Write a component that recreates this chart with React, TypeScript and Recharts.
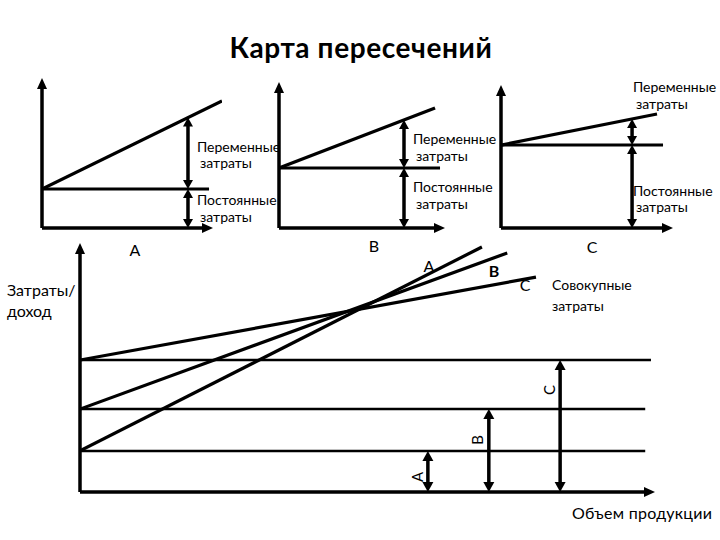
import React from 'react';
import { LineChart, Line, XAxis, YAxis, ReferenceLine } from 'recharts';

// ---- data (in chart units 0..100) ----
const seriesNames = ['A', 'B', 'C'];

// main chart: fixed cost level and total cost lines per option
const mainFixedCost = [16.5, 33.3, 53.0];
const mainFixedEndX = [98.3, 98.3, 99.3];
const mainTotalEndX = [69.9, 74.3, 79.3];
const mainTotalEndY = [98.4, 96.0, 86.3];
const mainArrowX = [60.5, 71.1, 83.5];

// three small charts
const miniFixedCost = [26.0, 41.1, 58.0];
const miniFixedEndX = [92.8, 97.0, 94.2];
const miniVarEndX = [100, 94.0, 90.7];
const miniVarEndY = [84.7, 82.2, 79.7];
const miniArrowX = [81.1, 75.3, 76.2];
const miniArrowTopY = [73.6, 74.0, 76.2];
const miniAxisEndX = [95, 100, 100];

// ---- layout ----
const W = 720;
const H = 540;
const FONT = 'Lato, "Open Sans", sans-serif';
const mainMargin = { top: 243, right: 65, bottom: 48, left: 80 };
const miniMargins = [
  { top: 78, right: 498, bottom: 312, left: 42 },
  { top: 82, right: 275, bottom: 312, left: 279 },
  { top: 85, right: 47, bottom: 312, left: 501 },
];

function arrowShape(startHead: boolean, endHead: boolean, sw: number, hl: number, hw: number) {
  return (p: any) => {
    const x1 = Number(p.x1), y1 = Number(p.y1), x2 = Number(p.x2), y2 = Number(p.y2);
    const dx = x2 - x1, dy = y2 - y1;
    const len = Math.hypot(dx, dy) || 1;
    const ux = dx / len, uy = dy / len;
    const px = -uy, py = ux;
    const head = (tx: number, ty: number, dx2: number, dy2: number) => {
      const bx = tx - dx2 * hl, by = ty - dy2 * hl;
      return `${tx},${ty} ${bx + (px * hw) / 2},${by + (py * hw) / 2} ${bx - (px * hw) / 2},${by - (py * hw) / 2}`;
    };
    const sx = startHead ? x1 + ux * hl * 0.7 : x1;
    const sy = startHead ? y1 + uy * hl * 0.7 : y1;
    const ex = endHead ? x2 - ux * hl * 0.7 : x2;
    const ey = endHead ? y2 - uy * hl * 0.7 : y2;
    return (
      <g>
        <line x1={sx} y1={sy} x2={ex} y2={ey} stroke="#000" strokeWidth={sw} />
        {startHead && <polygon points={head(x1, y1, -ux, -uy)} fill="#000" />}
        {endHead && <polygon points={head(x2, y2, ux, uy)} fill="#000" />}
      </g>
    );
  };
}

const layer: React.CSSProperties = { position: 'absolute', left: 0, top: 0 };

function MiniChart({ i }: { i: number }) {
  const fixedLine = [
    { x: 0, y: miniFixedCost[i] },
    { x: miniFixedEndX[i], y: miniFixedCost[i] },
  ];
  const varLine = [
    { x: 0, y: miniFixedCost[i] },
    { x: miniVarEndX[i], y: miniVarEndY[i] },
  ];
  return (
    <div style={layer}>
      <LineChart width={W} height={H} margin={miniMargins[i]}>
        <XAxis type="number" dataKey="x" domain={[0, 100]} hide allowDataOverflow />
        <YAxis type="number" domain={[0, 100]} hide allowDataOverflow />
        <ReferenceLine segment={[{ x: 0, y: 0 }, { x: 0, y: 100 }]} ifOverflow="visible" shape={arrowShape(false, true, 3.5, 11, 10)} />
        <ReferenceLine segment={[{ x: 0, y: 0 }, { x: miniAxisEndX[i], y: 0 }]} ifOverflow="visible" shape={arrowShape(false, true, 3.5, 11, 10)} />
        <Line data={fixedLine} dataKey="y" stroke="#000" strokeWidth={3} dot={false} isAnimationActive={false} />
        <Line data={varLine} dataKey="y" stroke="#000" strokeWidth={3.2} dot={false} isAnimationActive={false} />
        <ReferenceLine segment={[{ x: miniArrowX[i], y: 0 }, { x: miniArrowX[i], y: miniFixedCost[i] }]} ifOverflow="visible" shape={arrowShape(true, true, 3.5, 9, 10)} />
        <ReferenceLine segment={[{ x: miniArrowX[i], y: miniFixedCost[i] }, { x: miniArrowX[i], y: miniArrowTopY[i] }]} ifOverflow="visible" shape={arrowShape(true, true, 3.5, 9, 10)} />
      </LineChart>
    </div>
  );
}

function MainChart() {
  return (
    <div style={layer}>
      <LineChart width={W} height={H} margin={mainMargin}>
        <XAxis type="number" dataKey="x" domain={[0, 100]} hide allowDataOverflow />
        <YAxis type="number" domain={[0, 100]} hide allowDataOverflow />
        <ReferenceLine segment={[{ x: 0, y: 0 }, { x: 0, y: 100 }]} ifOverflow="visible" shape={arrowShape(false, true, 3.5, 11, 10)} />
        <ReferenceLine segment={[{ x: 0, y: 0 }, { x: 100, y: 0 }]} ifOverflow="visible" shape={arrowShape(false, true, 3.5, 11, 10)} />
        {seriesNames.map((n, i) => (
          <Line
            key={'f' + n}
            data={[{ x: 0, y: mainFixedCost[i] }, { x: mainFixedEndX[i], y: mainFixedCost[i] }]}
            dataKey="y"
            stroke="#000"
            strokeWidth={2.5}
            dot={false}
            isAnimationActive={false}
          />
        ))}
        {seriesNames.map((n, i) => (
          <Line
            key={'t' + n}
            data={[{ x: 0, y: mainFixedCost[i] }, { x: mainTotalEndX[i], y: mainTotalEndY[i] }]}
            dataKey="y"
            stroke="#000"
            strokeWidth={3.2}
            dot={false}
            isAnimationActive={false}
          />
        ))}
        {seriesNames.map((n, i) => (
          <ReferenceLine
            key={'a' + n}
            segment={[{ x: mainArrowX[i], y: 0 }, { x: mainArrowX[i], y: mainFixedCost[i] }]}
            ifOverflow="visible"
            shape={arrowShape(true, true, 3.5, 10, 11)}
          />
        ))}
      </LineChart>
    </div>
  );
}

function Txt({ x, y, children, size = 14, anchor = 'start', rotate = false, bold = false, ls = 0 }: any) {
  return (
    <text
      x={x}
      y={y}
      fontSize={size}
      fontFamily={FONT}
      fontWeight={bold ? 700 : 400}
      textAnchor={anchor}
      letterSpacing={ls}
      dominantBaseline={rotate ? 'central' : 'auto'}
      transform={rotate ? `rotate(-90 ${x} ${y})` : undefined}
      fill="#000"
    >
      {children}
    </text>
  );
}

function Labels() {
  const miniLabelPos = [
    [197, 152, 168, 205, 222],
    [413, 144, 161, 192, 209],
    [633, 92, 109, 196, 212],
  ];
  return (
    <svg width={W} height={H} style={{ ...layer, pointerEvents: 'none' }}>
      <Txt x={361} y={58} size={28} anchor="middle" bold ls={0.6}>
        Карта пересечений
      </Txt>
      {miniLabelPos.map((p, i) => (
        <g key={i}>
          <Txt x={p[0]} y={p[1]}>Переменные</Txt>
          <Txt x={p[0] + 3} y={p[2]}>затраты</Txt>
          <Txt x={p[0]} y={p[3]}>Постоянные</Txt>
          <Txt x={p[0] + 3} y={p[4]}>затраты</Txt>
        </g>
      ))}
      <Txt x={135} y={256} size={16} anchor="middle">{seriesNames[0]}</Txt>
      <Txt x={374} y={252} size={16} anchor="middle">{seriesNames[1]}</Txt>
      <Txt x={592} y={253} size={16} anchor="middle">{seriesNames[2]}</Txt>
      <Txt x={429} y={272} size={16} anchor="middle">{seriesNames[0]}</Txt>
      <Txt x={494} y={277} size={16} anchor="middle" bold>{seriesNames[1]}</Txt>
      <Txt x={525} y={291} size={16} anchor="middle">{seriesNames[2]}</Txt>
      <Txt x={552} y={290}>Совокупные</Txt>
      <Txt x={552} y={311}>затраты</Txt>
      <Txt x={7} y={296} size={16}>Затраты/</Txt>
      <Txt x={7} y={317} size={16}>доход</Txt>
      <Txt x={572} y={519} size={16} ls={0.3}>Объем продукции</Txt>
      <Txt x={417} y={477} size={15} anchor="middle" rotate>{seriesNames[0]}</Txt>
      <Txt x={477} y={440} size={15} anchor="middle" rotate>{seriesNames[1]}</Txt>
      <Txt x={549} y={390} size={15} anchor="middle" rotate>{seriesNames[2]}</Txt>
    </svg>
  );
}

export default function App() {
  return (
    <div style={{ position: 'absolute', left: 0, top: 0, width: W, height: H, background: '#fff' }}>
      <MiniChart i={0} />
      <MiniChart i={1} />
      <MiniChart i={2} />
      <MainChart />
      <Labels />
    </div>
  );
}
